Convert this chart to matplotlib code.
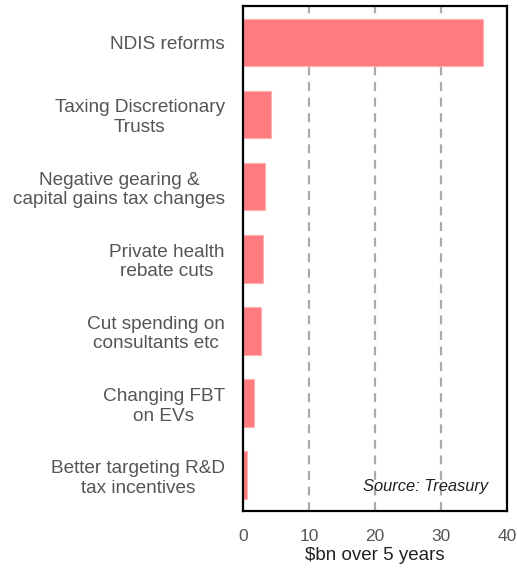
import matplotlib
matplotlib.use("Agg")
import matplotlib.pyplot as plt

plt.rcParams['font.family'] = ['Liberation Sans', 'DejaVu Sans']

categories = [
    "NDIS reforms",
    "Taxing Discretionary\nTrusts",
    "Negative gearing &\ncapital gains tax changes",
    "Private health\nrebate cuts",
    "Cut spending on\nconsultants etc",
    "Changing FBT\non EVs",
    "Better targeting R&D\ntax incentives",
]
savings_bn = [36.3, 4.3, 3.4, 3.0, 2.7, 1.7, 0.6]
x_ticks = [0, 10, 20, 30, 40]

fig = plt.figure(figsize=(5.17, 5.68), dpi=100)
ax = fig.add_axes([0.470, 0.100, 0.511, 0.889])

y = list(range(len(categories)))
ax.barh(y, savings_bn, height=0.66, color="#FF7B7F", edgecolor="#FFB0B2",
        linewidth=0.8, zorder=3)

ax.set_ylim(len(categories) - 0.5, -0.5)
ax.set_xlim(0, 40)
ax.set_xticks(x_ticks)
ax.set_yticks(y)
ax.set_yticklabels(categories, fontsize=13.7, color="#555555")
for lbl in ax.get_yticklabels():
    lbl.set_multialignment("center")
ax.tick_params(axis="y", length=0, pad=13)
ax.tick_params(axis="x", length=0, pad=13, labelsize=12.5, labelcolor="#555555")

for xv in x_ticks[1:-1]:
    ax.axvline(xv, color="#AAAAAA", linestyle=(0, (4, 3)), linewidth=1.6, zorder=1)

for sp in ax.spines.values():
    sp.set_color("black")
    sp.set_linewidth(1.6)
    sp.set_zorder(4)

ax.set_xlabel("\\$bn over 5 years", fontsize=13.5, color="#222222", labelpad=2)
ax.text(0.927, 0.035, "Source: Treasury", transform=ax.transAxes, ha="right",
        va="bottom", fontsize=11.9, style="italic", color="#222222")

fig.savefig("out.png", dpi=100)
